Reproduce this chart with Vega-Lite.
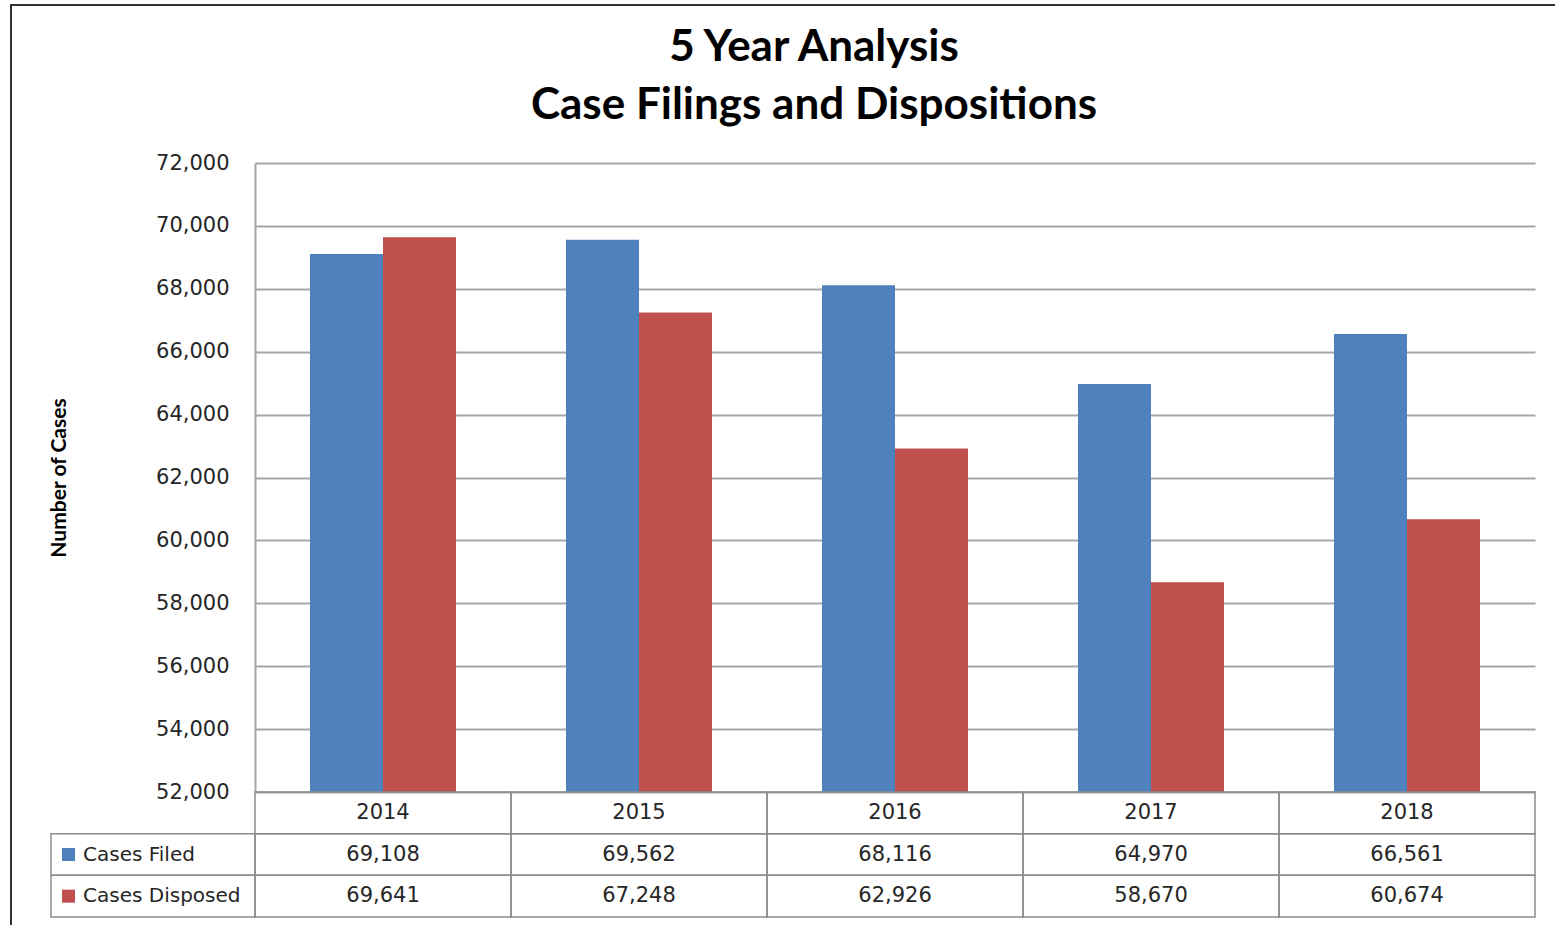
{
  "$schema": "https://vega.github.io/schema/vega-lite/v6.json",
  "width": 1280,
  "height": 754,
  "autosize": "none",
  "padding": {"left": 255, "top": 163, "right": 20, "bottom": 8},
  "background": "white",
  "config": {"view": {"stroke": null}, "font": "DejaVu Sans"},
  "title": {
    "text": ["5 Year Analysis", "Case Filings and Dispositions"],
    "font": "Lato",
    "fontSize": 44,
    "fontWeight": "bold",
    "color": "#000000",
    "anchor": "middle",
    "frame": "group",
    "dx": -81,
    "offset": -124,
    "lineHeight": 58
  },
  "datasets": {
    "cases": [
      {"year": "2014", "series": "Cases Filed", "value": 69108},
      {"year": "2015", "series": "Cases Filed", "value": 69562},
      {"year": "2016", "series": "Cases Filed", "value": 68116},
      {"year": "2017", "series": "Cases Filed", "value": 64970},
      {"year": "2018", "series": "Cases Filed", "value": 66561},
      {"year": "2014", "series": "Cases Disposed", "value": 69641},
      {"year": "2015", "series": "Cases Disposed", "value": 67248},
      {"year": "2016", "series": "Cases Disposed", "value": 62926},
      {"year": "2017", "series": "Cases Disposed", "value": 58670},
      {"year": "2018", "series": "Cases Disposed", "value": 60674}
    ]
  },
  "layer": [
    {
      "data": {"values": [{}]},
      "mark": {"type": "rect", "fillOpacity": 0, "stroke": "#333333", "strokeWidth": 2},
      "encoding": {
        "x": {"datum": 0, "type": "quantitative", "scale": {"domain": [0, 1], "range": [-244, 1330]}, "axis": null},
        "x2": {"datum": 1},
        "y": {"datum": 0, "type": "quantitative", "scale": {"domain": [0, 1], "range": [-158, 800], "zero": false}, "axis": null},
        "y2": {"datum": 1}
      }
    },
    {
      "data": {"name": "cases"},
      "mark": {"type": "bar"},
      "encoding": {
        "x": {"field": "year", "type": "nominal", "scale": {"domain": ["2014", "2015", "2016", "2017", "2018"], "range": [0, 1280], "paddingInner": 0, "paddingOuter": 0}, "axis": null},
        "xOffset": {"field": "series", "type": "nominal", "scale": {"domain": ["Cases Filed", "Cases Disposed"], "paddingInner": 0, "paddingOuter": 0.753}},
        "y": {
          "field": "value",
          "type": "quantitative",
          "scale": {"domain": [52000, 72000], "range": [629, 0], "zero": false, "nice": false},
          "axis": {
            "values": [52000, 54000, 56000, 58000, 60000, 62000, 64000, 66000, 68000, 70000, 72000],
            "format": ",.0f",
            "grid": true,
            "gridColor": "#a6a6a6",
            "gridWidth": 2,
            "domainColor": "#a6a6a6",
            "domainWidth": 2,
            "ticks": false,
            "labelFont": "DejaVu Sans",
            "labelFontSize": 21,
            "labelColor": "#262626",
            "labelPadding": 26,
            "title": "Number of Cases",
            "titleFont": "Lato",
            "titleFontSize": 21,
            "titleFontWeight": "bold",
            "titleColor": "#000000",
            "titlePadding": 86
          }
        },
        "y2": {"datum": 52000},
        "color": {"field": "series", "type": "nominal", "scale": {"domain": ["Cases Filed", "Cases Disposed"], "range": ["#4F81BD", "#C0504D"]}, "legend": null}
      }
    },
    {
      "data": {"name": "cases"},
      "mark": {"type": "rect", "fillOpacity": 0, "stroke": "#8c8c8c", "strokeWidth": 1.5},
      "encoding": {
        "x": {"field": "year", "type": "nominal", "scale": {"domain": ["2014", "2015", "2016", "2017", "2018"], "range": [0, 1280], "paddingInner": 0, "paddingOuter": 0}, "axis": null},
        "y": {"field": "series", "type": "nominal", "scale": {"domain": ["Year", "Cases Filed", "Cases Disposed"], "range": [629, 754], "paddingInner": 0, "paddingOuter": 0}, "axis": null}
      }
    },
    {
      "data": {"name": "cases"},
      "transform": [{"filter": "datum.series == 'Cases Filed'"}],
      "mark": {"type": "rect", "fillOpacity": 0, "stroke": "#8c8c8c", "strokeWidth": 1.5},
      "encoding": {
        "x": {"field": "year", "type": "nominal", "scale": {"domain": ["2014", "2015", "2016", "2017", "2018"], "range": [0, 1280], "paddingInner": 0, "paddingOuter": 0}, "axis": null},
        "y": {"datum": "Year", "type": "nominal", "scale": {"domain": ["Year", "Cases Filed", "Cases Disposed"], "range": [629, 754], "paddingInner": 0, "paddingOuter": 0}, "axis": null}
      }
    },
    {
      "data": {"name": "cases"},
      "transform": [{"filter": "datum.series == 'Cases Filed'"}],
      "mark": {"type": "text", "font": "DejaVu Sans", "fontSize": 21, "color": "#262626", "baseline": "middle"},
      "encoding": {
        "x": {"field": "year", "type": "nominal", "scale": {"domain": ["2014", "2015", "2016", "2017", "2018"], "range": [0, 1280], "paddingInner": 0, "paddingOuter": 0}, "axis": null},
        "y": {"datum": "Year", "type": "nominal", "scale": {"domain": ["Year", "Cases Filed", "Cases Disposed"], "range": [629, 754], "paddingInner": 0, "paddingOuter": 0}, "axis": null},
        "text": {"field": "year", "type": "nominal"}
      }
    },
    {
      "data": {"name": "cases"},
      "mark": {"type": "text", "font": "DejaVu Sans", "fontSize": 21, "color": "#262626", "baseline": "middle"},
      "encoding": {
        "x": {"field": "year", "type": "nominal", "scale": {"domain": ["2014", "2015", "2016", "2017", "2018"], "range": [0, 1280], "paddingInner": 0, "paddingOuter": 0}, "axis": null},
        "y": {"field": "series", "type": "nominal", "scale": {"domain": ["Year", "Cases Filed", "Cases Disposed"], "range": [629, 754], "paddingInner": 0, "paddingOuter": 0}, "axis": null},
        "text": {"field": "value", "type": "quantitative", "format": ",.0f"}
      }
    },
    {
      "data": {"name": "cases"},
      "transform": [{"filter": "datum.year == '2014'"}],
      "mark": {"type": "rect", "fillOpacity": 0, "stroke": "#8c8c8c", "strokeWidth": 1.5},
      "encoding": {
        "x": {"datum": 0, "type": "quantitative", "scale": {"domain": [0, 1], "range": [-204, 0]}, "axis": null},
        "x2": {"datum": 1},
        "y": {"field": "series", "type": "nominal", "scale": {"domain": ["Year", "Cases Filed", "Cases Disposed"], "range": [629, 754], "paddingInner": 0, "paddingOuter": 0}, "axis": null}
      }
    },
    {
      "data": {"name": "cases"},
      "transform": [{"filter": "datum.year == '2014'"}],
      "mark": {"type": "square", "filled": true, "size": 170, "opacity": 1},
      "encoding": {
        "x": {"datum": 0.086, "type": "quantitative", "scale": {"domain": [0, 1], "range": [-204, 0]}, "axis": null},
        "y": {"field": "series", "type": "nominal", "scale": {"domain": ["Year", "Cases Filed", "Cases Disposed"], "range": [629, 754], "paddingInner": 0, "paddingOuter": 0}, "axis": null},
        "color": {"field": "series", "type": "nominal", "scale": {"domain": ["Cases Filed", "Cases Disposed"], "range": ["#4F81BD", "#C0504D"]}, "legend": null}
      }
    },
    {
      "data": {"name": "cases"},
      "transform": [{"filter": "datum.year == '2014'"}],
      "mark": {"type": "text", "font": "DejaVu Sans", "fontSize": 20, "color": "#262626", "align": "left", "baseline": "middle"},
      "encoding": {
        "x": {"datum": 0.157, "type": "quantitative", "scale": {"domain": [0, 1], "range": [-204, 0]}, "axis": null},
        "y": {"field": "series", "type": "nominal", "scale": {"domain": ["Year", "Cases Filed", "Cases Disposed"], "range": [629, 754], "paddingInner": 0, "paddingOuter": 0}, "axis": null},
        "text": {"field": "series", "type": "nominal"}
      }
    }
  ],
  "resolve": {"scale": {"x": "independent", "y": "independent"}}
}
